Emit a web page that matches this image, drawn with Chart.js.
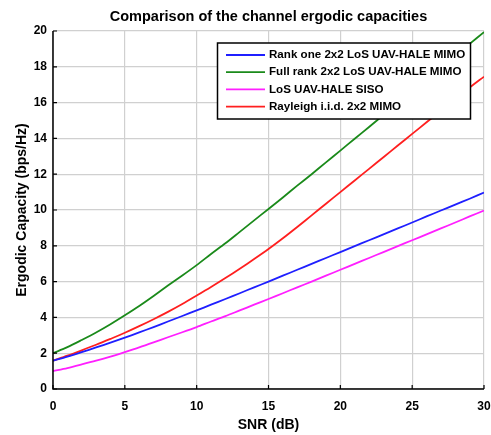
<!DOCTYPE html>
<html>
<head>
<meta charset="utf-8">
<script src="https://cdn.jsdelivr.net/npm/chart.js@4/dist/chart.umd.min.js"></script>
<style>
html,body{margin:0;padding:0;background:#fff;}
#wrap{width:491px;height:435px;position:relative;}
</style>
</head>
<body>
<div id="wrap"><canvas id="c" width="491" height="435"></canvas></div>
<script>
const snrDb = [0,1,2,3,4,5,6,7,8,9,10,11,12,13,14,15,16,17,18,19,20,21,22,23,24,25,26,27,28,29,30];
const rankOne = [1.58,1.81,2.06,2.32,2.59,2.87,3.16,3.46,3.77,4.08,4.39,4.71,5.03,5.35,5.68,6.00,6.33,6.66,6.99,7.32,7.65,7.98,8.31,8.64,8.97,9.30,9.64,9.97,10.30,10.63,10.97];
const fullRank = [2.00,2.34,2.74,3.16,3.62,4.12,4.64,5.20,5.78,6.34,6.92,7.54,8.14,8.78,9.42,10.06,10.70,11.36,12.00,12.66,13.32,13.98,14.64,15.30,15.96,16.62,17.28,17.94,18.60,19.28,19.94];
const siso = [1.00,1.17,1.37,1.58,1.81,2.06,2.32,2.60,2.89,3.17,3.46,3.77,4.07,4.39,4.71,5.03,5.35,5.68,6.00,6.33,6.66,6.99,7.32,7.65,7.98,8.31,8.64,8.97,9.30,9.64,9.97];
const rayleigh = [1.58,1.86,2.16,2.47,2.80,3.14,3.51,3.90,4.31,4.75,5.22,5.70,6.20,6.72,7.26,7.82,8.42,9.05,9.70,10.35,11.00,11.65,12.30,12.95,13.60,14.25,14.90,15.55,16.20,16.84,17.45];
const seriesNames = ["Rank one 2x2 LoS UAV-HALE MIMO","Full rank 2x2 LoS UAV-HALE MIMO","LoS UAV-HALE SISO","Rayleigh i.i.d. 2x2 MIMO"];
const seriesColors = ["#1f1fff","#1a8a1a","#ff1fff","#ff1f1f"];
const xTicks = [0,5,10,15,20,25,30];
const yTicks = [0,2,4,6,8,10,12,14,16,18,20];
const titleText = "Comparison of the channel ergodic capacities";
const xTitle = "SNR (dB)";
const yTitle = "Ergodic Capacity (bps/Hz)";

const FONT = "'Liberation Sans', Arial, sans-serif";
const allSeries = [rankOne, fullRank, siso, rayleigh];

const datasets = allSeries.map((s, i) => ({
  label: seriesNames[i],
  data: snrDb.map((x, j) => ({x: x, y: s[j]})),
  borderColor: seriesColors[i],
  backgroundColor: seriesColors[i],
  borderWidth: 1.8,
  pointRadius: 0,
  tension: 0.3,
  fill: false
}));

const decor = {
  id: 'decor',
  afterDraw(chart) {
    const ctx = chart.ctx;
    const a = chart.chartArea;
    const xs = chart.scales.x, ys = chart.scales.y;
    ctx.save();
    ctx.fillStyle = '#000';
    ctx.font = "bold 14.5px " + FONT;
    ctx.textAlign = 'center';
    ctx.textBaseline = 'middle';
    ctx.fillText(titleText, (a.left + a.right) / 2, 17);
    ctx.strokeStyle = '#000';
    ctx.lineWidth = 1.5;
    ctx.beginPath();
    ctx.moveTo(a.left, a.top);
    ctx.lineTo(a.left, a.bottom);
    ctx.lineTo(a.right, a.bottom);
    ctx.stroke();
    ctx.lineWidth = 1.2;
    ctx.beginPath();
    xTicks.forEach(v => { const px = xs.getPixelForValue(v); ctx.moveTo(px, a.bottom); ctx.lineTo(px, a.bottom - 4); });
    yTicks.forEach(v => { const py = ys.getPixelForValue(v); ctx.moveTo(a.left, py); ctx.lineTo(a.left + 4, py); });
    ctx.stroke();
    const bx = 217.5, by = 43, bw = 253, bh = 76;
    ctx.fillStyle = '#fff';
    ctx.fillRect(bx, by, bw, bh);
    ctx.strokeStyle = '#000';
    ctx.lineWidth = 1.5;
    ctx.strokeRect(bx, by, bw, bh);
    ctx.font = "bold 11.6px " + FONT;
    ctx.textAlign = 'left';
    ctx.textBaseline = 'middle';
    chart.data.datasets.forEach((d, i) => {
      const y = 55 + i * 17.2;
      ctx.strokeStyle = d.borderColor;
      ctx.lineWidth = 1.8;
      ctx.beginPath();
      ctx.moveTo(226, y);
      ctx.lineTo(265, y);
      ctx.stroke();
      ctx.fillStyle = '#000';
      ctx.fillText(d.label, 269, y);
    });
    ctx.restore();
  }
};

new Chart(document.getElementById('c'), {
  type: 'line',
  data: { datasets: datasets },
  plugins: [decor],
  options: {
    responsive: false,
    animation: false,
    layout: { padding: { top: 31, right: 7, left: 0, bottom: 0 } },
    plugins: { legend: { display: false }, title: { display: false }, tooltip: { enabled: false } },
    scales: {
      x: {
        type: 'linear', min: 0, max: 30,
        afterBuildTicks(s) { s.ticks = xTicks.map(v => ({value: v})); },
        afterFit(s) { s.height = 46; s.paddingLeft = 0; s.paddingRight = 0; },
        grid: { color: '#d0d0d0', lineWidth: 1.2, drawTicks: false },
        border: { display: false },
        ticks: { color: '#000', font: { family: FONT, size: 12, weight: 'bold' }, padding: 10, maxRotation: 0 },
        title: { display: true, text: xTitle, color: '#000', font: { family: FONT, size: 14, weight: 'bold' }, padding: { top: 1, bottom: 1 } }
      },
      y: {
        type: 'linear', min: 0, max: 20,
        afterBuildTicks(s) { s.ticks = yTicks.map(v => ({value: v})); },
        afterFit(s) { s.width = 53; s.paddingTop = 0; s.paddingBottom = 0; },
        grid: { color: '#d0d0d0', lineWidth: 1.2, drawTicks: false },
        border: { display: false },
        ticks: { color: '#000', font: { family: FONT, size: 12, weight: 'bold' }, padding: 6 },
        title: { display: true, text: yTitle, color: '#000', font: { family: FONT, size: 14, weight: 'bold' }, padding: { top: 14, bottom: 14 } }
      }
    }
  }
});
</script>
</body>
</html>
